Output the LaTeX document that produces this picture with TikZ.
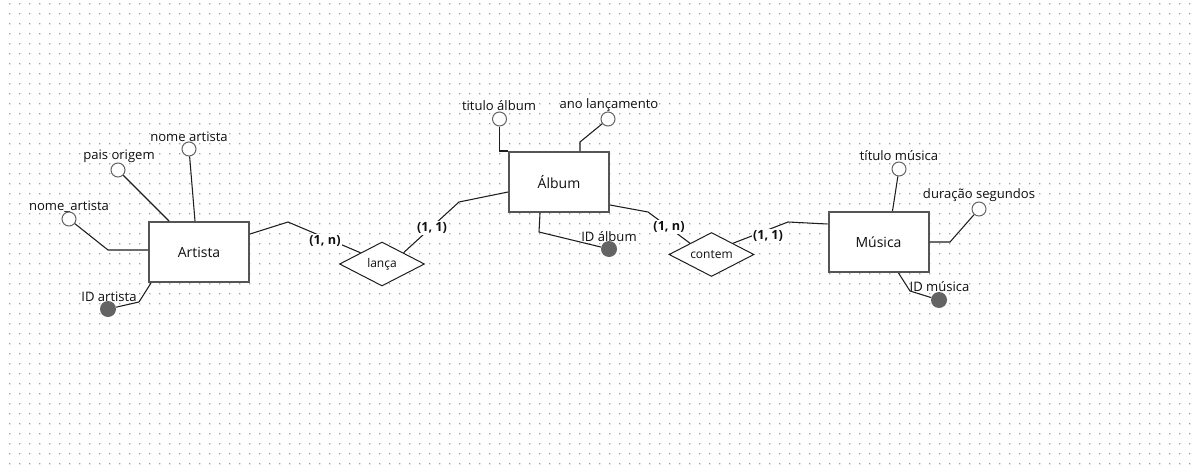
\documentclass[tikz,border=0pt]{standalone}
\usepackage{fontspec}
\setmainfont{Open Sans}
\usetikzlibrary{shapes.geometric,calc}
\definecolor{dotc}{RGB}{160,160,160}
\definecolor{boxc}{RGB}{85,85,85}
\definecolor{keyc}{RGB}{100,100,100}
\definecolor{linec}{RGB}{30,30,30}
\definecolor{txtc}{RGB}{15,15,15}
\begin{document}
\begin{tikzpicture}[x=0.75pt,y=-0.75pt,
 entity/.style={draw=boxc,line width=1.5pt,fill=white,minimum width=75pt,minimum height=45pt,inner sep=0pt,font=\fontsize{10.5pt}{12pt}\selectfont,text=txtc},
 rel/.style={diamond,aspect=2,draw=linec,line width=0.75pt,fill=white,minimum width=63.75pt,minimum height=33pt,inner sep=0pt,font=\fontsize{9pt}{10pt}\selectfont,text=txtc},
 attr/.style={circle,draw=keyc,line width=0.75pt,fill=white,minimum size=10.5pt,inner sep=0pt},
 keyattr/.style={circle,fill=keyc,minimum size=12pt,inner sep=0pt},
 lbl/.style={inner sep=0pt,font=\fontsize{9.8pt}{11pt}\selectfont,text=txtc},
 card/.style={fill=white,inner sep=1pt,font=\bfseries\fontsize{9.5pt}{11pt}\selectfont,text=txtc},
 conn/.style={draw=linec,line width=0.8pt}]
\fill[white] (0,0) rectangle (1195,471);
\useasboundingbox (0,0) rectangle (1195,471);
\fill[dotc] \foreach \i in {0,...,118}{\foreach \j in {0,...,46}{(9+10*\i,3+10*\j) rectangle ++(1.3,1.3)}};

% entities
\node[entity] (artista) at (199,252) {Artista};
\node[entity] (album) at (559,182) {Álbum};
\node[entity] (musica) at (878.5,242) {Música};

% relationships
\node[rel] (lanca) at (382,264) {lança};
\node[rel] (contem) at (711.5,254.5) {contem};

% attribute labels
\node[lbl] (la1) at (69,206.5) {nome\_artista};
\node[lbl] (la2) at (119,156.5) {pais origem};
\node[lbl] (la3) at (189,136.5) {nome artista};
\node[lbl] (lk1) at (109,296.5) {ID artista};
\node[lbl] (lt1) at (499,105.5) {titulo álbum};
\node[lbl] (lt2) at (609,105.5) {ano lançamento};
\node[lbl] (lk2) at (609,236.5) {ID álbum};
\node[lbl] (lm1) at (899,155.5) {título música};
\node[lbl] (lm2) at (979,195.5) {duração segundos};
\node[lbl] (lk3) at (939.5,286.5) {ID música};

% attribute circles
\node[attr] (a1) at (69,219) {};
\node[attr] (a2) at (118,170) {};
\node[attr] (a3) at (189,149) {};
\node[keyattr] (k1) at (108,309) {};
\node[attr] (t1) at (499.5,119) {};
\node[attr] (t2) at (608,119) {};
\node[keyattr] (k2) at (609,249) {};
\node[attr] (m1) at (899,169) {};
\node[attr] (m2) at (979,209) {};
\node[keyattr] (k3) at (939,300) {};

% bend points
\coordinate (b1) at (108,250);
\coordinate (bk1) at (139,302);
\coordinate (bt2) at (580,142);
\coordinate (bk2) at (539,232);
\coordinate (bm2) at (950,242);
\coordinate (bk3) at (910,291);
\coordinate (r1) at (288,222);
\coordinate (r2) at (459,202);
\coordinate (r3) at (648,212);
\coordinate (r4) at (788,222);

% attribute connectors
\draw[conn] (a1) -- (b1) -- (b1 -| artista.west);
\draw[conn] (a2) -- ($(artista.north west)+(21,0)$);
\draw[conn] (a3) -- ($(artista.north west)+(47,0)$);
\draw[conn] (k1) -- (bk1) -- ($(artista.south west)+(3,0)$);
\draw[conn] (t1) -- (t1 |- album.north) -- (album.north west);
\draw[conn] (t2) -- (bt2) -- (bt2 |- album.north);
\draw[conn] ($(album.south west)+(32,0)$) -- (bk2) -- (k2);
\draw[conn] (m1) -- ($(musica.north west)+(65,0)$);
\draw[conn] (m2) -- (bm2) -- (musica.east);
\draw[conn] ($(musica.south west)+(71,0)$) -- (bk3) -- (k3);

% relationship connectors
\draw[conn] ($(artista.east)+(0,-18)$) -- (r1) -- ($(lanca.north)!0.5!(lanca.west)$);
\draw[conn] ($(lanca.north)!0.5!(lanca.east)$) -- (r2) -- ($(album.west)+(0,10)$);
\draw[conn] ($(album.east)+(0,23)$) -- (r3) -- ($(contem.north)!0.5!(contem.west)$);
\draw[conn] ($(contem.north)!0.5!(contem.east)$) -- (r4) -- ($(musica.west)+(0,-18)$);

% cardinalities
\node[card] (c1) at (325,241) {(1, n)};
\node[card] (c2) at (432,228) {(1, 1)};
\node[card] (c3) at (669,227) {(1, n)};
\node[card] (c4) at (768,236) {(1, 1)};
\end{tikzpicture}
\end{document}
